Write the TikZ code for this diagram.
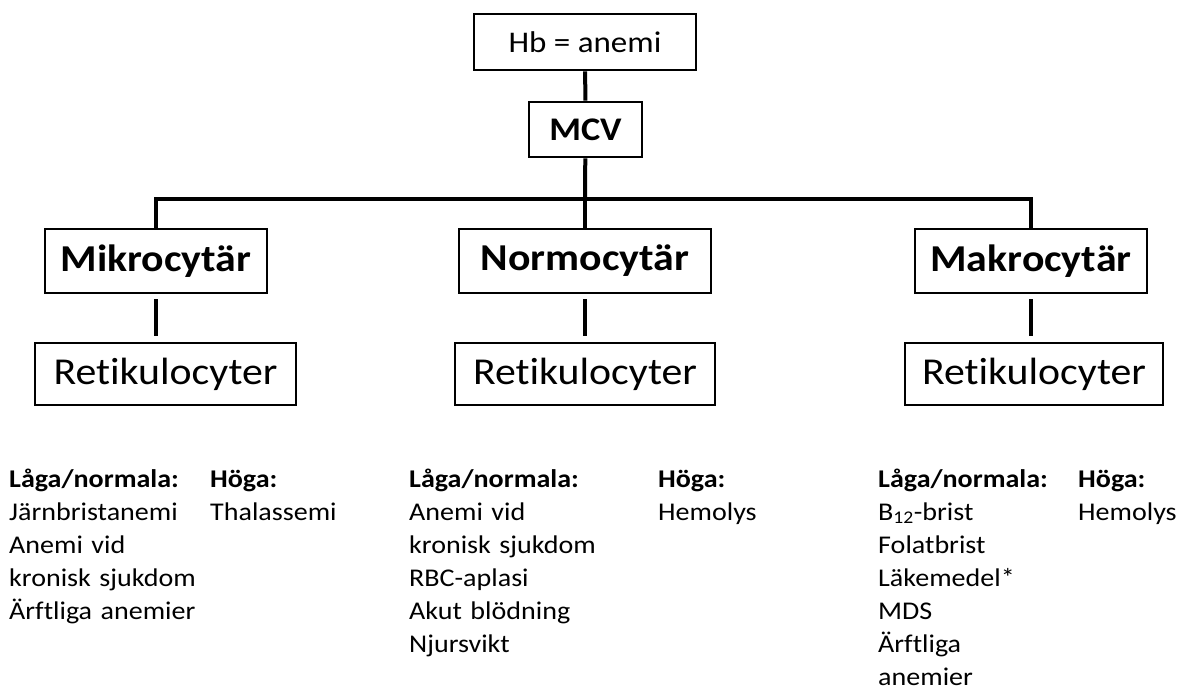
\documentclass[tikz,border=0pt]{standalone}
\usepackage{fontspec}
\setmainfont{Carlito}[FakeStretch=1.1,Ligatures=NoCommon]
\usepackage{tikz}
\usetikzlibrary{positioning,calc}

\begin{document}
\begin{tikzpicture}[x=1pt,y=-1pt,
box/.style={draw,line width=2.6pt,minimum height=#1,inner sep=0pt,align=center},
box/.default=64pt,
conn/.style={line width=4pt},
list/.style={anchor=base west,inner sep=0pt,text width=250pt,align=left,font=\fontsize{25.5}{33}\selectfont}]
\useasboundingbox (0,0) rectangle (1183,688);
\node[box=56pt,minimum width=222pt,font=\fontsize{30}{36}\selectfont] (hb) at (585,42) {Hb = anemi};
\node[box=55pt,minimum width=113pt,font=\fontsize{33}{36}\selectfont\bfseries] (mcv) at (585.5,129.5) {MCV};
\node[box,minimum width=222pt,font=\fontsize{38}{44}\selectfont\bfseries] (mikro) at (156,261) {Mikrocytär};
\node[box,minimum width=252pt,font=\fontsize{38}{44}\selectfont\bfseries] (normo) at (585,261) {Normocytär};
\node[box,minimum width=232pt,font=\fontsize{38}{44}\selectfont\bfseries] (makro) at (1031,261) {Makrocytär};
\node[box=62pt,minimum width=261pt,font=\fontsize{38}{44}\selectfont] (retmik) at (165.5,374) {Retikulocyter};
\node[box=62pt,minimum width=260pt,font=\fontsize{38}{44}\selectfont] (retnor) at (585,374) {Retikulocyter};
\node[box=62pt,minimum width=258pt,font=\fontsize{38}{44}\selectfont] (retmak) at (1034,374) {Retikulocyter};
\coordinate (bar) at (585,199);
\draw[conn] (hb) -- (mcv);
\draw[conn] (mcv) -- (bar);
\draw[conn] (mikro.north) |- (bar) -| (makro.north);
\draw[conn] (bar) -- (normo.north);
\draw[conn,shorten <=5pt,shorten >=6pt] (mikro.south) -- (mikro.south |- retmik.north);
\draw[conn,shorten <=5pt,shorten >=6pt] (normo.south) -- (normo.south |- retnor.north);
\draw[conn,shorten <=5pt,shorten >=6pt] (makro.south) -- (makro.south |- retmak.north);
% retikulocyter
\node[list] (mikrolag) at (9,487) {\textbf{Låga/normala:}\\Järnbristanemi\\Anemi vid\\kronisk sjukdom\\Ärftliga anemier};
\node[list] (mikrohog) at (210,487) {\textbf{Höga:}\\Thalassemi};
\node[list] (normolag) at (409,487) {\textbf{Låga/normala:}\\Anemi vid\\kronisk sjukdom\\RBC-aplasi\\Akut blödning\\Njursvikt};
\node[list] (normohog) at (658,487) {\textbf{Höga:}\\Hemolys};
\node[list] (makrolag) at (878,487) {\textbf{Låga/normala:}\\B\textsubscript{12}-brist\\Folatbrist\\Läkemedel*\\MDS\\Ärftliga\\anemier};
\node[list,text width=100pt] (makrohog) at (1078,487) {\textbf{Höga:}\\Hemolys};
\end{tikzpicture}
\end{document}
